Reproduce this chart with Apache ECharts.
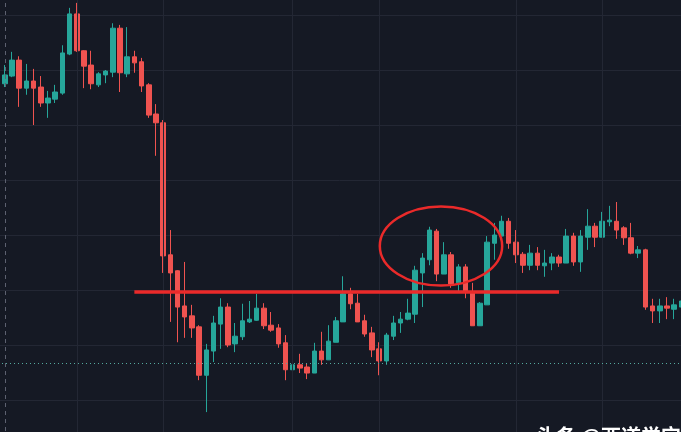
<!DOCTYPE html>
<html><head><meta charset="utf-8">
<script src="https://cdn.jsdelivr.net/npm/echarts@6/dist/echarts.min.js"></script>
<style>
html,body{margin:0;padding:0;background:#151924;width:681px;height:432px;overflow:hidden;position:relative;}
#c{position:absolute;left:-6px;top:-40px;width:691px;height:495px;}
</style>
</head><body><div id="c"></div>
<script>
const opens = [65.5,67.5,68.9,71.8,66.7,68.0,66.9,64.0,64.7,65.8, 72.9,80.2,73.5,70.9,67.3,69.1,69.6,77.6,69.3,72.4, 71.5,67.3,62.0,60.4,36.4,33.5,27.1,25.3,23.3,14.5, 18.9,23.8,26.9,20.2,21.5,24.2,24.5,26.7,23.6,23.1, 20.4,15.5,16.4,16.0,14.9,18.9,17.3,20.5,24.2,29.3, 27.6,24.4,22.2,19.3,17.1,21.6,24.0,24.7,25.6,33.1, 35.5,40.7,32.9,36.4,31.3,34.2,29.5,23.5,27.3,38.5, 39.8,42.5,38.7,36.5,34.5,36.7,34.4,34.9,36.0,34.9, 39.8,35.1,39.6,41.6,39.6,42.4,42.5,41.3,39.5,36.7, 37.3,27.1,26.2,27.1,26.5,26.9];
const closes = [67.6,69.1,71.8,66.7,68.0,66.7,64.0,64.9,66.0,73.1, 80.2,73.5,70.7,67.5,69.3,69.8,77.6,69.5,72.4,71.3, 67.1,61.8,60.4,36.2,33.1,26.9,25.1,23.1,14.5,19.1, 24.0,26.9,20.0,21.6,24.4,24.7,26.7,23.5,22.7,20.2, 15.5,16.4,15.8,14.9,18.9,17.3,20.7,24.4,29.3,27.5, 24.2,22.0,19.1,17.1,21.8,24.0,24.7,25.8,33.6,35.8, 40.9,32.9,36.4,31.1,34.2,29.6,23.5,27.6,38.7,40.0, 42.5,38.5,36.4,34.5,36.7,34.5,34.9,36.0,34.9,39.8, 35.1,39.8,41.6,39.6,42.5,42.7,40.9,39.5,36.7,37.3, 26.9,26.2,27.1,26.7,27.3,28.0];
const lows = [65.1,66.9,68.7,63.3,65.5,60.0,63.3,61.3,64.0,65.5, 72.7,73.3,66.7,66.5,66.9,67.6,68.7,66.0,68.7,69.5, 66.0,61.3,54.4,33.1,24.2,20.5,21.3,21.3,13.6,7.8, 16.9,19.3,19.6,18.7,20.9,24.0,24.4,22.9,22.4,19.5, 13.6,13.1,14.9,13.8,14.9,16.4,17.3,20.5,24.2,26.5, 24.2,21.5,17.8,14.5,16.4,20.9,22.2,24.5,24.0,26.9, 34.5,31.6,32.9,30.4,29.6,28.5,23.5,23.5,27.3,35.5, 39.8,37.5,34.9,33.1,33.6,33.6,32.4,33.6,34.2,34.9, 34.4,33.3,37.3,37.8,39.6,41.6,39.3,38.2,36.5,35.8, 26.4,24.0,24.0,24.7,24.7,25.8];
const highs = [68.2,70.9,73.3,72.5,71.1,70.2,68.9,66.2,67.3,74.5, 81.3,82.2,73.6,73.5,69.6,70.0,78.5,78.2,77.8,73.5, 72.2,67.6,63.8,60.9,40.9,33.6,35.1,27.3,23.6,20.2, 25.3,28.5,27.6,24.0,27.5,28.0,29.3,27.6,26.0,23.8, 21.8,24.5,18.4,16.7,20.4,22.4,23.6,25.1,32.5,30.4, 29.3,25.5,23.3,20.5,22.2,25.3,26.0,28.4,34.4,36.7, 41.5,41.1,38.7,36.9,34.7,34.7,31.3,27.8,39.8,42.2, 43.5,43.1,40.9,36.9,38.2,37.8,37.3,36.7,36.4,41.1, 40.4,40.9,44.7,42.2,44.2,45.3,46.0,41.6,42.2,38.0, 37.5,28.4,28.4,28.7,28.4,28.5];

// category labels (one per candle)
const categories = [];
for (let i = 0; i < opens.length; i++) categories.push('K' + (i + 1));

// annotation values
const supportLevel = 29.6;
const supportFrom = 'K20';
const supportTo = 'K79';
const lastPriceLevel = 16.7;
const crosshairCategory = 'K2';
const timeGridCategories = ['K12', 'K24', 'K42', 'K54', 'K73', 'K85'];
const ellipseCenter = [61.6, 38.0];   // [category index, price]
const ellipseRadius = [8.5, 7.2];     // [categories, price units]
const watermark = '头条 @西道学宝';

const ohlc = opens.map((o, i) => [o, closes[i], lows[i], highs[i]]);

const chart = echarts.init(document.getElementById('c'), null, {renderer: 'canvas'});
const option = {
  backgroundColor: '#151924',
  animation: false,
  grid: {left: 0, right: 0, top: 0, bottom: 0, containLabel: false},
  xAxis: {
    type: 'category', data: categories, boundaryGap: true,
    axisLine: {show: false}, axisTick: {show: false}, axisLabel: {show: false},
    splitLine: {show: false}
  },
  yAxis: {
    type: 'value', min: 0, max: 90, interval: 10,
    axisLine: {show: false}, axisTick: {show: false}, axisLabel: {show: false},
    splitLine: {show: true, lineStyle: {color: '#232734', width: 1}}
  },
  series: [
    {
      type: 'line', data: [], z: 1, silent: true,
      markLine: {
        silent: true, symbol: 'none', label: {show: false}, animation: false,
        lineStyle: {color: '#232734', type: 'solid', width: 1},
        data: timeGridCategories.map(c => ({xAxis: c}))
      }
    },
    {
      type: 'candlestick', data: ohlc, z: 3, barWidth: 5,
      itemStyle: {color: '#26a69a', color0: '#ef5350', borderColor: '#26a69a', borderColor0: '#ef5350', borderWidth: 1},
      markLine: {
        silent: true, symbol: 'none', label: {show: false}, animation: false,
        data: [
          [{coord: [supportFrom, supportLevel], lineStyle: {color: '#ea2a2a', width: 3.5, type: 'solid'}},
           {coord: [supportTo, supportLevel]}],
          {yAxis: lastPriceLevel, lineStyle: {color: '#55a99f', width: 1, type: [1, 3]}},
          {xAxis: crosshairCategory, lineStyle: {color: '#5d6170', width: 1, type: [4, 4]}}
        ]
      }
    }
  ]
};
chart.setOption(option);

function drawOverlay() {
  const ci = Math.floor(ellipseCenter[0]);
  const frac = ellipseCenter[0] - ci;
  const p0 = chart.convertToPixel({gridIndex: 0}, [ci, ellipseCenter[1]]);
  const p1 = chart.convertToPixel({gridIndex: 0}, [ci + 1, ellipseCenter[1]]);
  const step = p1[0] - p0[0];
  const cx = p0[0] + frac * step;
  const cy = p0[1];
  const pTop = chart.convertToPixel({gridIndex: 0}, [ci, ellipseCenter[1] + ellipseRadius[1]]);
  const rx = ellipseRadius[0] * step;
  const ry = cy - pTop[1];
  chart.setOption({
    graphic: [
      {type: 'ellipse', shape: {cx: cx, cy: cy, rx: rx, ry: ry}, z: 10,
       style: {fill: 'none', stroke: '#ea2a2a', lineWidth: 2.5}},
      {type: 'text', right: 4, bottom: 9, z: 10,
       style: {text: watermark, fill: '#ffffff', font: 'bold 20px "Noto Sans CJK SC", sans-serif'}}
    ]
  });
}
drawOverlay();
</script>
</body></html>
